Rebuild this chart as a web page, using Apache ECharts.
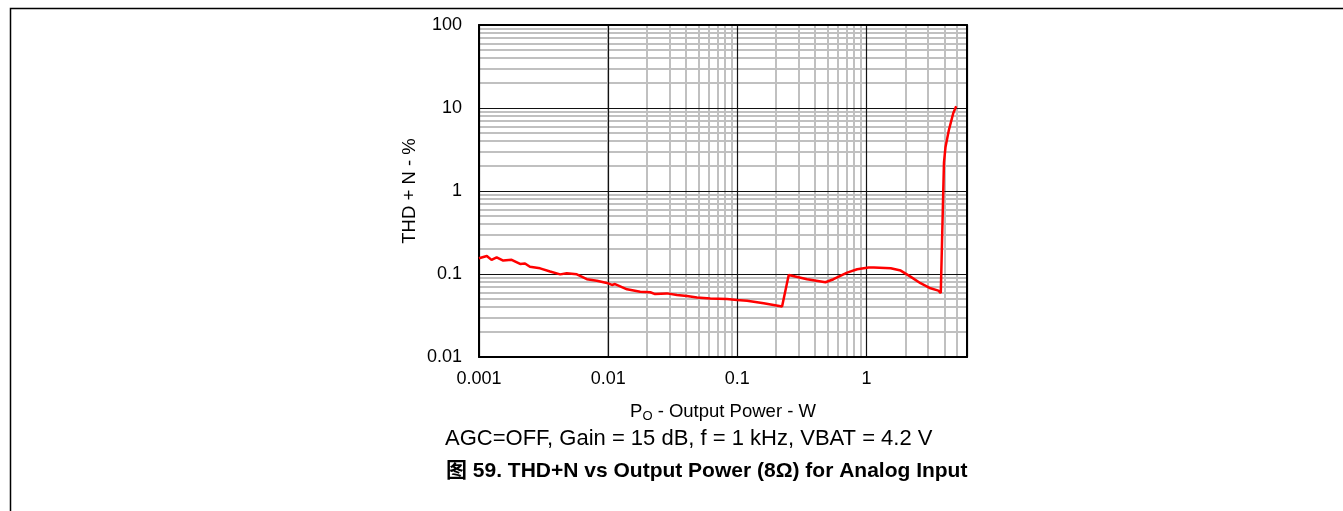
<!DOCTYPE html>
<html>
<head>
<meta charset="utf-8">
<script src="https://cdn.jsdelivr.net/npm/echarts@6/dist/echarts.min.js"></script>
<style>
  html, body { margin: 0; padding: 0; background: #fff; }
  #chart { width: 1343px; height: 511px; }
</style>
</head>
<body>
<div id="chart"></div>
<script>
// Output power (W) and THD+N (%) along the measured sweep
const powerW = [0.001, 0.00115, 0.00125, 0.00137, 0.00154, 0.00179, 0.00208, 0.00227, 0.00248, 0.00297,
  0.00355, 0.00425, 0.00478, 0.00572, 0.00684, 0.00817, 0.00977, 0.0107, 0.0113, 0.014,
  0.0177, 0.0212, 0.0231, 0.0285, 0.0341, 0.0407, 0.0487, 0.0618, 0.0832, 0.0995,
  0.119, 0.160, 0.222, 0.250, 0.347, 0.481, 0.555, 0.708, 0.847, 1.04,
  1.14, 1.54, 1.84, 2.19, 2.62, 3.13, 3.60, 3.76, 3.93, 3.98,
  4.09, 4.34, 4.70, 4.95];
const thdPct = [0.155, 0.165, 0.148, 0.159, 0.145, 0.148, 0.132, 0.134, 0.122, 0.117,
  0.107, 0.099, 0.102, 0.099, 0.0865, 0.083, 0.078, 0.0738, 0.0757, 0.0654,
  0.0612, 0.0603, 0.0573, 0.0584, 0.0558, 0.0542, 0.052, 0.0508, 0.05, 0.0486,
  0.0476, 0.0443, 0.0405, 0.0974, 0.0865, 0.0796, 0.0865, 0.104, 0.114, 0.12,
  0.12, 0.117, 0.11, 0.093, 0.0774, 0.0673, 0.063, 0.059, 1.0, 2.2,
  3.4, 5.4, 8.7, 10.5];

// Axis ranges
const xMin = 0.001, xMax = 6;
const yMin = 0.01, yMax = 100;

// Decade starts and in-decade multipliers for the light log grid
const xDecades = [0.001, 0.01, 0.1, 1];
const yDecades = [0.01, 0.1, 1, 10];
const minorSteps = [2, 3, 4, 5, 6, 7, 8, 9];

const titleText = 'AGC=OFF, Gain = 15 dB, f = 1 kHz, VBAT = 4.2 V';
const captionText = '图 59. THD+N vs Output Power (8Ω) for Analog Input';

const minorLines = [];
xDecades.forEach(d => minorSteps.forEach(m => {
  const v = +(d * m).toPrecision(3);
  if (v < xMax) minorLines.push({ xAxis: v });
}));
yDecades.forEach(d => minorSteps.forEach(m => {
  minorLines.push({ yAxis: +(d * m).toPrecision(3) });
}));

const FONT = '"Liberation Sans", Arial, "Noto Sans CJK SC", sans-serif';
const chart = echarts.init(document.getElementById('chart'), null, { renderer: 'canvas' });

const axisCommon = {
  type: 'log',
  logBase: 10,
  z: 2,
  axisTick: { show: false },
  minorTick: { show: false },
  minorSplitLine: { show: false }
};

chart.setOption({
  animation: false,
  backgroundColor: '#ffffff',
  textStyle: { fontFamily: FONT },
  grid: { left: 479, top: 25, width: 488, height: 332, show: false },
  xAxis: [
    Object.assign({}, axisCommon, {
      min: xMin, max: xMax, position: 'bottom',
      axisLine: { show: true, lineStyle: { color: '#000', width: 2 } },
      splitLine: { show: true, lineStyle: { color: '#111', width: 1.2 } },
      axisLabel: { show: true, color: '#000', fontSize: 18, fontFamily: FONT, margin: 13, showMaxLabel: false,
        formatter: v => String(+v.toPrecision(3)) },
      name: '{a|P}{s|O}{a| - Output Power - W}',
      nameLocation: 'middle',
      nameGap: 44,
      nameTextStyle: {
        rich: {
          a: { fontSize: 18.5, fontFamily: FONT, color: '#000' },
          s: { fontSize: 13, fontFamily: FONT, color: '#000', verticalAlign: 'bottom', padding: [9, 0, 0, 0] }
        }
      }
    }),
    Object.assign({}, axisCommon, {
      min: xMin, max: xMax, position: 'top',
      axisLine: { show: true, lineStyle: { color: '#000', width: 2 } },
      splitLine: { show: false },
      axisLabel: { show: false }
    })
  ],
  yAxis: [
    Object.assign({}, axisCommon, {
      min: yMin, max: yMax, position: 'left',
      axisLine: { show: true, lineStyle: { color: '#000', width: 2 } },
      splitLine: { show: true, lineStyle: { color: '#111', width: 1.2 } },
      axisLabel: { show: true, color: '#000', fontSize: 18, fontFamily: FONT, margin: 17,
        formatter: v => String(+v.toPrecision(3)) },
      name: 'THD + N - %',
      nameLocation: 'middle',
      nameGap: 60,
      nameRotate: 90,
      nameTextStyle: { fontSize: 18.5, fontFamily: FONT, color: '#000' }
    }),
    Object.assign({}, axisCommon, {
      min: yMin, max: yMax, position: 'right',
      axisLine: { show: true, lineStyle: { color: '#000', width: 2 } },
      splitLine: { show: false },
      axisLabel: { show: false }
    })
  ],
  graphic: [
    {
      type: 'polyline', z: 10, silent: true,
      shape: { points: [[10.5, 511], [10.5, 8.5], [1343, 8.5]] },
      style: { stroke: '#000', lineWidth: 1.5, fill: null }
    },
    {
      type: 'text', left: 445, top: 428, silent: true,
      style: { text: titleText, fontSize: 22, fontFamily: FONT, fill: '#000' }
    },
    {
      type: 'text', left: 446, top: 461, silent: true,
      style: { text: captionText, fontSize: 21, fontWeight: 'bold', fontFamily: FONT, fill: '#000' }
    }
  ],
  series: [
    {
      // light gray 2..9 grid inside each decade
      type: 'line', z: 1, silent: true,
      xAxisIndex: 0, yAxisIndex: 0,
      data: [],
      showSymbol: false,
      markLine: {
        z: 1,
        silent: true, symbol: ['none', 'none'], animation: false,
        label: { show: false },
        lineStyle: { color: '#c0c0c0', width: 2, type: 'solid' },
        emphasis: { disabled: true },
        data: minorLines
      }
    },
    {
      name: 'THD+N',
      type: 'line', z: 3,
      xAxisIndex: 0, yAxisIndex: 0,
      data: powerW.map((p, i) => [p, thdPct[i]]),
      showSymbol: false,
      smooth: false,
      lineStyle: { color: '#ff0000', width: 2.5 },
      itemStyle: { color: '#ff0000' }
    }
  ]
});
</script>
</body>
</html>
